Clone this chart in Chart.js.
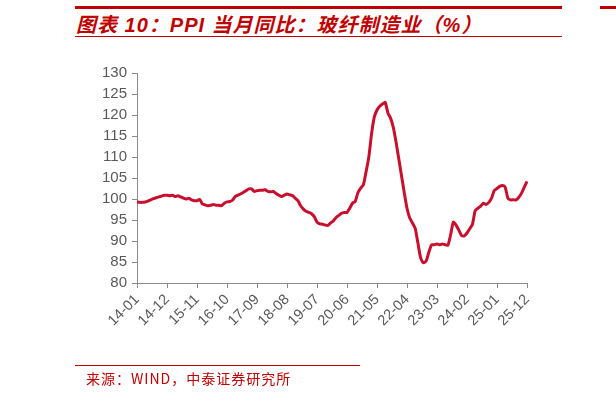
<!DOCTYPE html>
<html>
<head>
<meta charset="utf-8">
<script src="https://cdn.jsdelivr.net/npm/chart.js@4.4.0/dist/chart.umd.min.js"></script>
<style>
    html, body { margin: 0; padding: 0; background: #fff; }
    #wrap { position: relative; width: 616px; height: 396px; overflow: hidden; }
    #topLine { position: absolute; left: 75px; top: 6px; width: 487px; height: 3px; background: #c00000; }
    #topLine2 { position: absolute; left: 600px; top: 6px; width: 16px; height: 3px; background: #c00000; }
    #title { position: absolute; left: 76px; top: 9px; font: italic bold 20px "Liberation Sans", "Noto Sans CJK SC", sans-serif; letter-spacing: 1px; color: #c00000; white-space: nowrap; }
    #titleLine { position: absolute; left: 75px; top: 36px; width: 487px; height: 1px; background: #c00000; }
    #srcLine { position: absolute; left: 75px; top: 365px; width: 285px; height: 1px; background: #c00000; }
    #source { position: absolute; left: 86px; top: 368px; font: 14px "Noto Sans CJK SC", "Liberation Sans", sans-serif; letter-spacing: 1px; color: #c00000; white-space: nowrap; }
    #myChart { position: absolute; left: 0; top: 0; }
</style>
</head>
<body>
<div id="wrap">
    <div id="topLine"></div>
    <div id="topLine2"></div>
    <div id="title">图表 10：PPI 当月同比：玻纤制造业（%）</div>
    <div id="titleLine"></div>
    <canvas id="myChart" width="616" height="396"></canvas>
    <div id="srcLine"></div>
    <div id="source">来源：WIND，中泰证券研究所</div>
</div>
<script>
// months 14-01 .. 25-12
var years = [14, 15, 16, 17, 18, 19, 20, 21, 22, 23, 24, 25];
var months = ['01', '02', '03', '04', '05', '06', '07', '08', '09', '10', '11', '12'];
var labels = [];
for (var a = 0; a < years.length; a++) {
    for (var b = 0; b < months.length; b++) {
        labels.push(years[a] + '-' + months[b]);
    }
}

// PPI yoy, glass fibre manufacturing (prev year = 100)
var ppi2014 = [99.3, 99.2, 99.2, 99.3, 99.5, 99.8, 100.1, 100.3, 100.5, 100.7, 100.9, 100.9];
var ppi2015 = [100.8, 100.9, 100.6, 100.8, 100.5, 100.2, 100.0, 100.2, 99.8, 99.6, 99.6, 99.9];
var ppi2016 = [98.8, 98.6, 98.4, 98.5, 98.7, 98.5, 98.5, 98.4, 99.0, 99.3, 99.4, 99.7];
var ppi2017 = [100.6, 100.9, 101.2, 101.6, 102.0, 102.4, 102.4, 101.8, 102.0, 102.1, 102.1, 102.2];
var ppi2018 = [101.8, 101.7, 101.8, 101.3, 100.9, 100.6, 100.9, 101.2, 101.0, 100.8, 100.2, 99.6];
var ppi2019 = [98.4, 97.6, 97.1, 96.8, 96.5, 95.8, 94.5, 94.1, 94.0, 93.8, 93.7, 94.3];
var ppi2020 = [94.8, 95.6, 96.1, 96.6, 96.8, 96.8, 97.8, 99.0, 99.4, 101.5, 102.6, 103.4];
var ppi2021 = [106.5, 110.0, 115.5, 119.5, 121.2, 122.1, 122.6, 123.0, 120.5, 119.2, 117.0, 113.5];
var ppi2022 = [109.5, 105.5, 101.5, 97.8, 95.5, 94.3, 93.0, 89.5, 86.0, 84.8, 85.2, 87.3];
var ppi2023 = [89.1, 89.1, 89.3, 89.1, 89.3, 89.1, 89.0, 91.5, 94.5, 93.8, 92.6, 91.3];
var ppi2024 = [91.2, 91.9, 92.9, 94.0, 97.2, 97.8, 98.3, 99.0, 98.7, 99.2, 100.2, 102.0];
var ppi2025 = [102.5, 103.0, 103.2, 102.8, 100.2, 99.8, 99.8, 99.8, 100.4, 101.4, 102.8, 104.2];
var ppiValues = [].concat(ppi2014, ppi2015, ppi2016, ppi2017, ppi2018, ppi2019,
    ppi2020, ppi2021, ppi2022, ppi2023, ppi2024, ppi2025);

var yMin = 80;
var yMax = 130;
var yStep = 5;
var labelEvery = 11;

var axisColor = '#8c8c8c';
var textColor = '#595959';

var myChart = new Chart(document.getElementById('myChart'), {
    type: 'line',
    data: {
        labels: labels,
        datasets: [{
            data: ppiValues,
            borderColor: '#c8102e',
            borderWidth: 3,
            pointRadius: 0,
            tension: 0.2,
            fill: false
        }]
    },
    options: {
        responsive: false,
        animation: false,
        layout: { padding: { left: 87, top: 73, right: 89, bottom: 63 } },
        plugins: { legend: { display: false }, tooltip: { enabled: false } },
        scales: {
            x: {
                offset: false,
                grid: { drawOnChartArea: false, tickLength: 5, color: axisColor },
                border: { display: true, color: axisColor, width: 1 },
                ticks: {
                    autoSkip: false,
                    maxRotation: 45,
                    minRotation: 45,
                    padding: 3,
                    color: textColor,
                    font: { family: 'Liberation Sans', size: 14.5 },
                    callback: function (val, index) {
                        return index % labelEvery === 0 ? labels[index] : null;
                    }
                },
                afterFit: function (scale) { scale.height = 50; }
            },
            y: {
                min: yMin,
                max: yMax,
                grid: { drawOnChartArea: false, tickLength: 5, color: axisColor },
                border: { display: true, color: axisColor, width: 1 },
                ticks: {
                    stepSize: yStep,
                    padding: 5,
                    color: textColor,
                    font: { family: 'Liberation Sans', size: 15 }
                },
                afterFit: function (scale) { scale.width = 50; }
            }
        }
    }
});
</script>
</body>
</html>
